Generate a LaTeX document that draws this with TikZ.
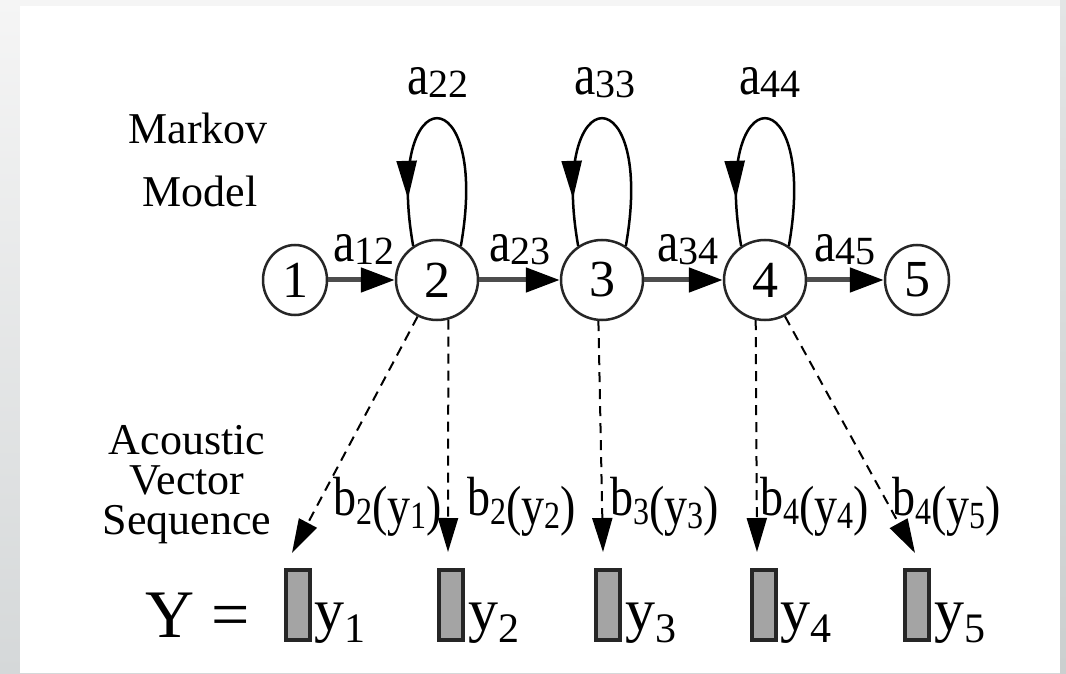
\documentclass[tikz,border=0pt]{standalone}
\usepackage{fontspec}
\setmainfont{Liberation Serif}
\usepackage{graphicx}
\usetikzlibrary{arrows.meta,shapes.geometric,decorations.markings}

\definecolor{frametop}{HTML}{F5F5F5}
\definecolor{framebot}{HTML}{D5D8D9}
\definecolor{edgetop}{HTML}{E3E5E5}
\definecolor{edgebot}{HTML}{CBCFCF}
\definecolor{barfill}{HTML}{A4A4A4}
\definecolor{flowgray}{HTML}{4D4D4D}

% transition probability a_{ij}
\newcommand{\trans}[1]{\scalebox{1}[1.2]{a}\raisebox{-3pt}{\fontsize{40}{40}\selectfont #1}}
% output probability b_j(y_t)
\newcommand{\emit}[2]{\scalebox{1}[1.2]{b\raisebox{-8pt}{{\fontsize{32}{32}\selectfont #1}(y\raisebox{-3pt}{\fontsize{32}{32}\selectfont #2})}}}
% observation vector y_t
\newcommand{\obsv}[1]{y\raisebox{-12pt}{\fontsize{42}{42}\selectfont #1}}

\begin{document}
\begin{tikzpicture}[x=1pt,y=1pt,
  state/.style={ellipse, draw=black!85, line width=2.5pt, inner sep=0pt, fill=white,
    font=\fontsize{52}{52}\selectfont},
  bigstate/.style={state, minimum width=82pt, minimum height=80pt},
  endstate/.style={state, minimum width=64pt, minimum height=70pt},
  flow/.style={draw=flowgray, line width=5pt, -{Triangle[length=34pt,width=24pt,color=black]}},
  selfloop/.style={draw=black, line width=2.5pt, postaction={decorate},
    decoration={markings, mark=at position 0.83 with {\arrow{Triangle[length=38pt,width=20pt]}}}},
  emission/.style={draw=black, line width=2pt, dash pattern=on 10pt off 7pt,
    -{Triangle[length=34pt,width=20pt]}},
  framebar/.style={rectangle, draw=black!85, line width=4pt, fill=barfill,
    minimum width=24pt, minimum height=70pt, inner sep=0pt},
  caption/.style={inner sep=0pt, align=center, anchor=base},
  alab/.style={inner sep=0pt, anchor=base, font=\fontsize{48}{48}\selectfont},
  blab/.style={inner sep=0pt, anchor=base west, font=\fontsize{46}{46}\selectfont},
  ylab/.style={inner sep=0pt, anchor=base west, font=\fontsize{60}{60}\selectfont}
]
\useasboundingbox (0,0) rectangle (1066,673);
% page frame
\shade[top color=frametop, bottom color=framebot] (0,0) rectangle (1066,673);
\shade[top color=edgetop, bottom color=edgebot] (1060,0) rectangle (1066,673);
\fill[white] (20,0) rectangle (1060,667);

% side captions (anchored on the baseline of their last line)
\node[caption, font=\fontsize{44}{63}\selectfont] (mk) at (198,466) {Markov\\\hspace*{4pt}Model};
\node[caption, font=\fontsize{44}{40}\selectfont] (ac) at (187,139) {Acoustic\\Vector\\Sequence};

% states
\node[endstate] (c1) at (295,393) {1};
\node[bigstate] (c2) at (437,393) {2};
\node[bigstate] (c3) at (602,393) {3};
\node[bigstate] (c4) at (765,393) {4};
\node[endstate] (c5) at (917,393) {5};

% transitions
\draw[flow] (c1) -- (c2);
\draw[flow] (c2) -- (c3);
\draw[flow] (c3) -- (c4);
\draw[flow] (c4) -- (c5);

\draw[selfloop] (c2.55) to[out=80,in=100,distance=173pt] (c2.125);
\draw[selfloop] (c3.55) to[out=80,in=100,distance=173pt] (c3.125);
\draw[selfloop] (c4.55) to[out=80,in=100,distance=173pt] (c4.125);

\node[alab] (a22) at (438,578) {\trans{22}};
\node[alab] (a33) at (605,578) {\trans{33}};
\node[alab] (a44) at (770,578) {\trans{44}};
\node[alab] (a12) at (364,411) {\trans{12}};
\node[alab] (a23) at (520,411) {\trans{23}};
\node[alab] (a34) at (688,411) {\trans{34}};
\node[alab] (a45) at (845,411) {\trans{45}};

% observation vectors
\node[framebar] (f1) at (298,68) {};
\node[framebar] (f2) at (451,68) {};
\node[framebar] (f3) at (608,68) {};
\node[framebar] (f4) at (764,68) {};
\node[framebar] (f5) at (917,68) {};

\node[ylab] (y1) at (314,43) {\obsv{1}};
\node[ylab] (y2) at (468,43) {\obsv{2}};
\node[ylab] (y3) at (625,43) {\obsv{3}};
\node[ylab] (y4) at (780,43) {\obsv{4}};
\node[ylab] (y5) at (934,43) {\obsv{5}};

\node[inner sep=0pt, anchor=base west, font=\fontsize{68}{68}\selectfont] (seq) at (145,36) {Y =};

% emissions
\coordinate (t1) at (292,120);
\coordinate (t2) at (448,121);
\coordinate (t3) at (603,121);
\coordinate (t4) at (757,121);
\coordinate (t5) at (915,120);

\draw[emission] (c2) -- (t1);
\draw[emission] (c2.-74) -- (t2);
\draw[emission] (c3.-95) -- (t3);
\draw[emission] (c4.-103) -- (t4);
\draw[emission] (c4) -- (t5);

\node[blab] (b1) at (333,158) {\emit{2}{1}};
\node[blab] (b2) at (467,158) {\emit{2}{2}};
\node[blab] (b3) at (610,158) {\emit{3}{3}};
\node[blab] (b4) at (760,158) {\emit{4}{4}};
\node[blab] (b5) at (892,158) {\emit{4}{5}};
\end{tikzpicture}
\end{document}
